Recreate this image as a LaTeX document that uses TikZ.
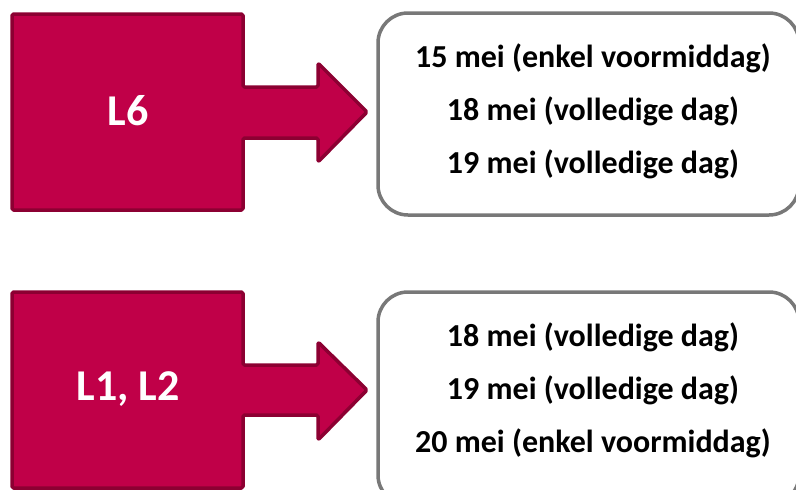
\documentclass[tikz,border=0pt]{standalone}
\usepackage{fontspec}
\setmainfont{Carlito}
\definecolor{crim}{RGB}{192,0,72}
\definecolor{crimdark}{RGB}{140,0,50}
\definecolor{boxgray}{RGB}{120,120,120}
\begin{document}
\begin{tikzpicture}[x=1pt,y=-1pt,
  arrowshape/.style={fill=crim,draw=crimdark,line width=3.5pt,line join=round,rounded corners=1.5pt},
  datebox/.style={draw=boxgray,line width=3.5pt,rounded corners=30pt,fill=white},
  label/.style={text=white,font=\fontsize{44}{52}\selectfont\bfseries},
  dates/.style={align=center,font=\fontsize{32}{53}\selectfont\bfseries}]
\useasboundingbox (0,0) rectangle (796,490);
\begin{scope}
\clip (0,0) rectangle (796,490);
% top arrow shape
\draw[arrowshape] (12,14) -- (243,14) -- (243,87) -- (318,87) -- (318,63) -- (367,112) -- (318,162) -- (318,138) -- (243,138) -- (243,210) -- (12,210) -- cycle;
\node[label] (l6) at (128,111) {L6};
\draw[datebox] (378,13) rectangle (799,215);
\node[dates] (d1) at (593,111) {15 mei (enkel voormiddag)\\18 mei (volledige dag)\\19 mei (volledige dag)};
% bottom arrow shape
\draw[arrowshape] (12,292) -- (243,292) -- (243,365) -- (318,365) -- (318,342) -- (367,390) -- (318,440) -- (318,415) -- (243,415) -- (243,488) -- (12,488) -- cycle;
\node[label] (l12) at (128,389) {L1, L2};
\draw[datebox] (378,292) rectangle (799,505);
\node[dates] (d2) at (593,390) {18 mei (volledige dag)\\19 mei (volledige dag)\\20 mei (enkel voormiddag)};
\end{scope}
\end{tikzpicture}
\end{document}
